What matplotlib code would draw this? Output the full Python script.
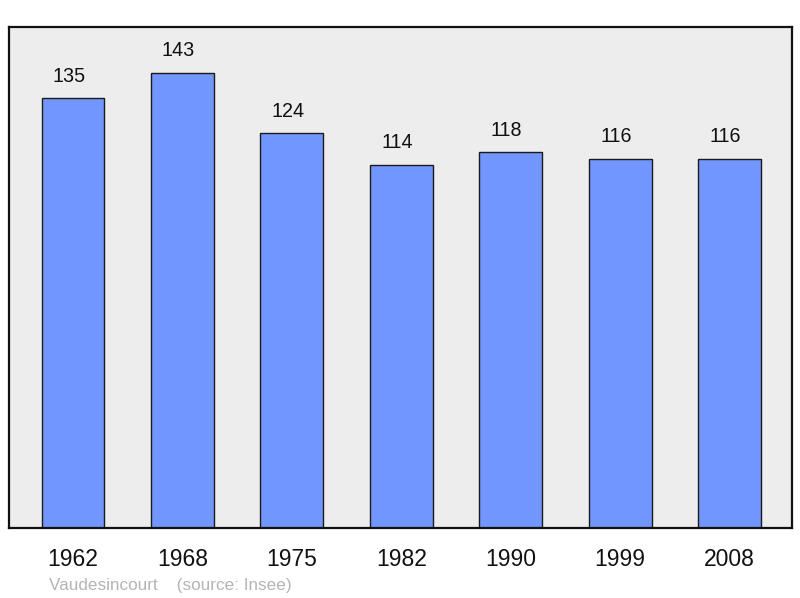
import matplotlib
matplotlib.use("Agg")
import matplotlib.pyplot as plt

years = ["1962", "1968", "1975", "1982", "1990", "1999", "2008"]
population = [135, 143, 124, 114, 118, 116, 116]
commune = "Vaudesincourt"
source = "(source: Insee)"

plt.rcParams['font.family'] = ['Liberation Sans', 'DejaVu Sans']

fig = plt.figure(figsize=(8, 5.98), dpi=100)
ax = fig.add_axes([9/800, 70/598, 783/800, 501/598])
ax.set_facecolor('#ededed')

x = list(range(len(years)))
ax.bar(x, population, width=0.575, color='#7197ff', edgecolor='#1a1a1a', linewidth=1.0, zorder=2)
for xi, v in zip(x, population):
    ax.annotate(str(v), (xi, v), xytext=(-3, 9), textcoords='offset points',
                ha='center', va='bottom', fontsize=14.2, color='#111111')

ax.set_xlim(-0.585, 6.571)
ax.set_ylim(0, max(population) * 1.1)
ax.set_yticks([])
ax.set_xticks(x)
ax.set_xticklabels(years, fontsize=16.5, color='#111111')
ax.tick_params(axis='x', length=0, pad=14.5)
for s in ax.spines.values():
    s.set_linewidth(1.6)
    s.set_color('#111111')

fig.text(49/800, 1 - 590/598, commune + "    " + source, fontsize=12.3, color='#b4b4b4',
         ha='left', va='baseline')

fig.savefig("out.png", dpi=100)
